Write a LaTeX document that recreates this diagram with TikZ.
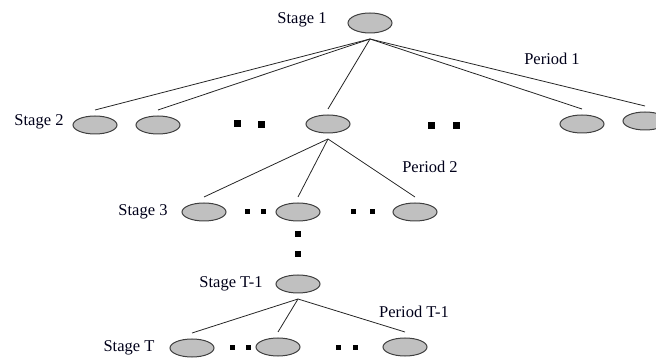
\documentclass[tikz,border=0pt]{standalone}
\usepackage{fontspec}
\setmainfont{Liberation Serif}
\usetikzlibrary{shapes.geometric}
\definecolor{nodegray}{RGB}{192,192,192}
\begin{document}
\begin{tikzpicture}[x=1pt,y=-1pt,
  state/.style={ellipse,draw=black!75,line width=1pt,fill=nodegray,minimum width=44pt,minimum height=18pt,inner sep=0pt,outer ysep=6pt},
  lbl/.style={font=\fontsize{16.5}{19}\selectfont,text=black!90!blue},
  branch/.style={draw=black!85,line width=0.8pt}]
\useasboundingbox (0,0) rectangle (656,363);
% stage labels
\node[lbl] (l1) at (302,20) {Stage 1};
\node[lbl] (l2) at (39,122) {Stage 2};
\node[lbl] (l3) at (143,212) {Stage 3};
\node[lbl] (l4) at (231,284) {Stage T-1};
\node[lbl] (l5) at (129,348) {Stage T};
\node[lbl] (p1) at (552,59) {Period 1};
\node[lbl] (p2) at (430,167) {Period 2};
\node[lbl] (p3) at (414,312) {Period T-1};
% scenario nodes
\node[state,minimum height=20pt] (r) at (370,23) {};
\node[state] (a1) at (95,125) {};
\node[state] (a2) at (158,125) {};
\node[state] (a3) at (328,124) {};
\node[state] (a4) at (582,124) {};
\node[state] (a5) at (645,121) {};
\node[state] (b1) at (204,212) {};
\node[state] (b2) at (298,212) {};
\node[state] (b3) at (415,212) {};
\node[state] (c) at (298,284) {};
\node[state] (d1) at (192,348) {};
\node[state] (d2) at (278,347) {};
\node[state] (d3) at (405,347) {};
% branches
\foreach \n in {a1,a2,a3,a4,a5} \draw[branch] (r.south) -- (\n.north);
\foreach \n in {b1,b2,b3} \draw[branch] (a3.south) -- (\n.north);
\foreach \n in {d1,d2,d3} \draw[branch] (c.south) -- (\n.north);
% dots
\foreach \x/\y in {237/124,261/125,431/126,456/126} \fill (\x-3.5,\y-3.5) rectangle ++(7,7);
\foreach \x/\y in {247/212,263/212,353/212,372/212,232/347,248/347,338/347,355/347} \fill (\x-2.5,\y-2.5) rectangle ++(5,5);
\foreach \y in {234,254} \fill (298-3,\y-3) rectangle ++(6,6);
\end{tikzpicture}
\end{document}
